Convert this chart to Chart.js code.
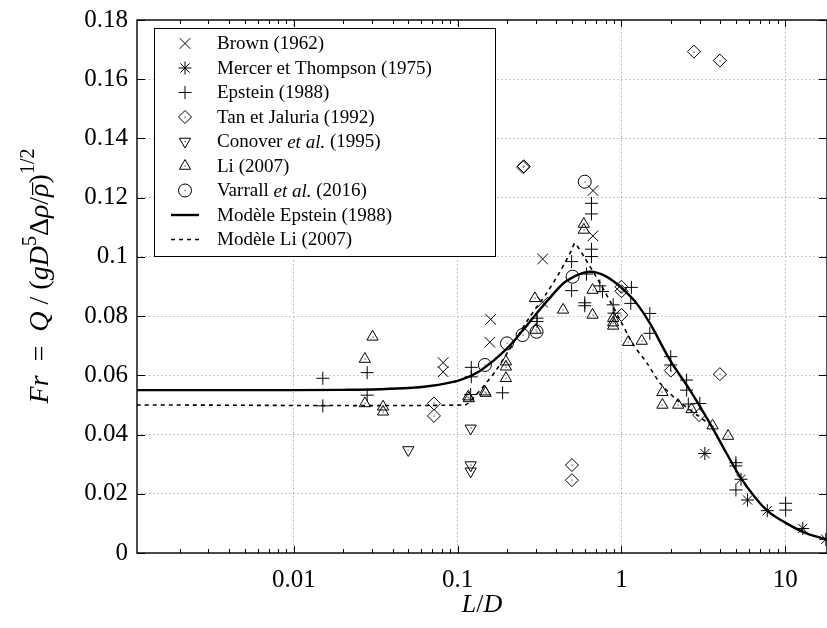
<!DOCTYPE html>
<html>
<head>
<meta charset="utf-8">
<script src="https://cdn.jsdelivr.net/npm/chart.js@4"></script>
<style>
  html, body { margin: 0; padding: 0; background: #fff; }
  #chart { display: block; }
</style>
</head>
<body>
<canvas id="chart" width="827" height="628"></canvas>
<script>
// values (L/D, Fr)
const brownX = [0.0815, 0.0815, 0.157, 0.159, 0.33, 0.33, 0.67, 0.67];
const brownY = [0.0643, 0.0612, 0.0712, 0.0789, 0.0847, 0.0993, 0.1224, 0.1071];

const mercerX = [3.23, 5.37, 5.89, 7.77, 12.8, 17.7];
const mercerY = [0.0336, 0.0249, 0.0179, 0.0143, 0.0083, 0.0046];

const epsteinX = [0.015, 0.015, 0.028, 0.028, 0.121, 0.121, 0.12, 0.188, 0.305, 0.305,
  0.496, 0.496, 0.597, 0.597, 0.612, 0.656, 0.656, 0.656, 0.656, 0.738,
  0.766, 0.89, 0.90, 1.15, 1.14, 1.49, 1.49, 2.0, 2.0, 2.5,
  2.5, 2.56, 3.01, 5.0, 5.0, 5.0, 10.06, 10.06];
const epsteinY = [0.059, 0.0497, 0.0609, 0.0533, 0.0627, 0.0595, 0.0535, 0.0541, 0.0793, 0.0782,
  0.0984, 0.0886, 0.0845, 0.0835, 0.0942, 0.1181, 0.1145, 0.1026, 0.1001, 0.0902,
  0.0883, 0.0838, 0.0810, 0.0897, 0.0843, 0.0809, 0.0742, 0.0663, 0.0635, 0.0584,
  0.0550, 0.0503, 0.0505, 0.0305, 0.0294, 0.0213, 0.0168, 0.0145];

const tanX = [0.0716, 0.0716, 0.251, 0.253, 0.498, 0.498, 1.0, 1.0, 1.0, 2.0, 2.77, 2.98, 3.99, 3.99];
const tanY = [0.0505, 0.0463, 0.1303, 0.1306, 0.0297, 0.0246, 0.0899, 0.0884, 0.0804, 0.0616, 0.1693, 0.0466, 0.1663, 0.0604];

const conoverX = [0.0499, 0.12, 0.12, 0.12];
const conoverY = [0.0348, 0.0421, 0.0297, 0.0276];

const liX = [0.0271, 0.0302, 0.0271, 0.035, 0.035, 0.116, 0.117, 0.1465, 0.148, 0.197,
  0.197, 0.197, 0.296, 0.30, 0.44, 0.589, 0.589, 0.666, 0.666, 0.89,
  0.89, 0.89, 1.10, 1.33, 1.78, 1.78, 2.22, 2.68, 3.60, 4.48];
const liY = [0.0655, 0.0730, 0.0505, 0.0494, 0.0477, 0.0528, 0.0522, 0.0545, 0.054, 0.0646,
  0.0629, 0.059, 0.086, 0.0753, 0.0821, 0.1111, 0.1091, 0.0888, 0.0804, 0.0793,
  0.0778, 0.0767, 0.0712, 0.0716, 0.0543, 0.0500, 0.0500, 0.0485, 0.0430, 0.0395];

const varrallX = [0.1465, 0.20, 0.249, 0.303, 0.503, 0.597];
const varrallY = [0.0635, 0.0708, 0.0736, 0.0747, 0.0933, 0.1254];

// model curves
const epModelX = [0.0011, 0.005, 0.01, 0.02, 0.0334, 0.05, 0.0676, 0.085, 0.103, 0.1365,
  0.1987, 0.25, 0.303, 0.37, 0.4406, 0.52, 0.583, 0.65, 0.705, 0.8,
  0.933, 1.08, 1.237, 1.49, 1.976, 2.62, 3.47, 4.39, 5.29, 6.5,
  7.70, 10.2, 13.5, 18];
const epModelY = [0.055, 0.055, 0.055, 0.0551, 0.0553, 0.0557, 0.0564, 0.0573, 0.0584, 0.0615,
  0.0689, 0.0752, 0.0809, 0.0865, 0.0910, 0.0935, 0.0946, 0.0950, 0.0947, 0.0935,
  0.0910, 0.0878, 0.0843, 0.0776, 0.0652, 0.0550, 0.0438, 0.0336, 0.0258, 0.0190,
  0.0145, 0.0100, 0.0066, 0.0046];

const liModelX = [0.0011, 0.111, 0.125, 0.145, 0.172, 0.218, 0.276, 0.349, 0.41, 0.462,
  0.496, 0.519, 0.598, 0.738, 0.911, 1.174, 1.43, 1.717, 2.18, 2.89, 3.62];
const liModelY = [0.05, 0.05, 0.0525, 0.0565, 0.0618, 0.0708, 0.0798, 0.0877, 0.0939, 0.099,
  0.1023, 0.1046, 0.0996, 0.0912, 0.0821, 0.0706, 0.0642, 0.0574, 0.0517, 0.0466, 0.0426];

// axis ticks
const xTickValues = [0.002, 0.003, 0.004, 0.005, 0.006, 0.007, 0.008, 0.009,
  0.01, 0.02, 0.03, 0.04, 0.05, 0.06, 0.07, 0.08, 0.09,
  0.1, 0.2, 0.3, 0.4, 0.5, 0.6, 0.7, 0.8, 0.9,
  1, 2, 3, 4, 5, 6, 7, 8, 9, 10];
const xTickLabels = ['0.01', '0.1', '1', '10'];
const yTickValues = [0, 0.02, 0.04, 0.06, 0.08, 0.1, 0.12, 0.14, 0.16, 0.18];

const serif = '"Liberation Serif", "DejaVu Serif", serif';
const gridGray = '#b4b4b4';

function pts(xs, ys) {
  return xs.map((x, i) => ({ x: x, y: ys[i] }));
}
function isDecade(v) {
  const l = Math.log10(v);
  return Math.abs(l - Math.round(l)) < 1e-6;
}

const markerSets = [
  { label: 'Brown (1962)', xs: brownX, ys: brownY, style: 'crossRot', r: 7.5, rot: 0, dot: false },
  { label: 'Mercer et Thompson (1975)', xs: mercerX, ys: mercerY, style: 'star', r: 6.5, rot: 0, dot: false },
  { label: 'Epstein (1988)', xs: epsteinX, ys: epsteinY, style: 'cross', r: 6.5, rot: 0, dot: false },
  { label: 'Tan et Jaluria (1992)', xs: tanX, ys: tanY, style: 'rectRot', r: 6.5, rot: 0, dot: true },
  { label: 'Conover et al. (1995)', xs: conoverX, ys: conoverY, style: 'triangle', r: 6.5, rot: 180, dot: true },
  { label: 'Li (2007)', xs: liX, ys: liY, style: 'triangle', r: 6.5, rot: 0, dot: true },
  { label: 'Varrall et al. (2016)', xs: varrallX, ys: varrallY, style: 'circle', r: 6.5, rot: 0, dot: true }
];

const datasets = markerSets.map(s => ({
  label: s.label,
  data: pts(s.xs, s.ys),
  showLine: false,
  pointStyle: s.style,
  pointRadius: s.r,
  pointRotation: s.rot,
  pointBorderColor: '#000',
  pointBackgroundColor: 'rgba(255,255,255,0)',
  pointBorderWidth: 1,
  centerDot: s.dot
}));

datasets.push({
  label: 'Modèle Epstein (1988)',
  data: pts(epModelX, epModelY),
  showLine: true,
  borderColor: '#000',
  borderWidth: 2.4,
  pointRadius: 0,
  cubicInterpolationMode: 'monotone'
});
datasets.push({
  label: 'Modèle Li (2007)',
  data: pts(liModelX, liModelY),
  showLine: true,
  borderColor: '#000',
  borderWidth: 1.6,
  borderDash: [4, 4],
  pointRadius: 0,
  tension: 0.2
});

// legend rows: text runs (italic parts marked)
const legendRows = [
  { runs: [['Brown (1962)', false]], set: 0 },
  { runs: [['Mercer et Thompson (1975)', false]], set: 1 },
  { runs: [['Epstein (1988)', false]], set: 2 },
  { runs: [['Tan et Jaluria (1992)', false]], set: 3 },
  { runs: [['Conover ', false], ['et al.', true], [' (1995)', false]], set: 4 },
  { runs: [['Li (2007)', false]], set: 5 },
  { runs: [['Varrall ', false], ['et al.', true], [' (2016)', false]], set: 6 },
  { runs: [['Modèle Epstein (1988)', false]], line: [] },
  { runs: [['Modèle Li (2007)', false]], line: [4, 4] }
];

function drawMarker(ctx, style, r, rot, x, y) {
  if (Chart.helpers && Chart.helpers.drawPoint) {
    ctx.strokeStyle = '#000';
    ctx.fillStyle = 'rgba(255,255,255,0)';
    ctx.lineWidth = 1;
    Chart.helpers.drawPoint(ctx, { pointStyle: style, radius: r, rotation: rot, borderWidth: 1 }, x, y);
  }
}

const decorPlugin = {
  id: 'decor',
  afterDatasetsDraw(chart) {
    const ctx = chart.ctx;
    const a = chart.chartArea;
    const xs = chart.scales.x, ys = chart.scales.y;
    ctx.save();
    // small centre dots of hollow markers
    ctx.fillStyle = '#444';
    chart.data.datasets.forEach((ds, i) => {
      if (!ds.centerDot) return;
      chart.getDatasetMeta(i).data.forEach(el => {
        ctx.fillRect(Math.round(el.x) - 0.5, Math.round(el.y) - 0.5, 1.2, 1.2);
      });
    });
    // inward tick marks
    ctx.strokeStyle = '#000';
    ctx.lineWidth = 1;
    ctx.beginPath();
    xTickValues.forEach(v => {
      const px = Math.round(xs.getPixelForValue(v)) + 0.5;
      const len = isDecade(v) ? 7 : 4;
      ctx.moveTo(px, a.bottom); ctx.lineTo(px, a.bottom - len);
      ctx.moveTo(px, a.top); ctx.lineTo(px, a.top + len);
    });
    yTickValues.forEach(v => {
      const py = Math.round(ys.getPixelForValue(v)) + 0.5;
      ctx.moveTo(a.left, py); ctx.lineTo(a.left + 8, py);
      ctx.moveTo(a.right, py); ctx.lineTo(a.right - 8, py);
    });
    ctx.stroke();
    // frame
    ctx.lineWidth = 1.4;
    ctx.strokeRect(a.left, a.top, a.right - a.left, a.bottom - a.top);

    // legend
    const lx = 154, ly = 28, lw = 341, lh = 228;
    ctx.fillStyle = '#fff';
    ctx.fillRect(lx, ly, lw, lh);
    ctx.lineWidth = 1;
    ctx.strokeStyle = '#000';
    ctx.strokeRect(lx + 0.5, ly + 0.5, lw, lh);
    ctx.textBaseline = 'middle';
    ctx.fillStyle = '#000';
    legendRows.forEach((row, i) => {
      const y = 43.5 + i * 24.5;
      if (row.set !== undefined) {
        const s = markerSets[row.set];
        drawMarker(ctx, s.style, s.r, s.rot, 185, y);
        if (s.dot) { ctx.fillStyle = '#444'; ctx.fillRect(184.5, y - 0.5, 1.2, 1.2); }
      } else {
        ctx.beginPath();
        ctx.setLineDash(row.line);
        ctx.lineWidth = row.line.length ? 1.6 : 2.4;
        ctx.moveTo(171, y); ctx.lineTo(199, y);
        ctx.stroke();
        ctx.setLineDash([]);
      }
      ctx.fillStyle = '#000';
      let tx = 217;
      row.runs.forEach(([t, it]) => {
        ctx.font = (it ? 'italic ' : '') + '19px ' + serif;
        ctx.fillText(t, tx, y + 1);
        tx += ctx.measureText(t).width;
      });
    });

    // axis titles
    drawYTitle(ctx, 38, 276);
    ctx.textBaseline = 'alphabetic';
    const size = 26;
    const runs = [['L', true], ['/', false], ['D', true]];
    let w = 0;
    runs.forEach(([t, it]) => { ctx.font = (it ? 'italic ' : '') + size + 'px ' + serif; w += ctx.measureText(t).width; });
    let tx = (a.left + a.right) / 2 - w / 2;
    runs.forEach(([t, it]) => {
      ctx.font = (it ? 'italic ' : '') + size + 'px ' + serif;
      ctx.fillText(t, tx, 612);
      tx += ctx.measureText(t).width;
    });
    ctx.restore();
  }
};

function drawYTitle(ctx, cx, cy) {
  const size = 28;
  const runs = [
    { t: 'Fr', it: true }, { t: '  =  ' }, { t: 'Q', it: true }, { t: ' / (' },
    { t: 'gD', it: true }, { t: '5', s: 0.7, dy: -0.42 }, { t: 'Δ' }, { t: 'ρ', it: true },
    { t: '/' }, { t: 'ρ', it: true, bar: true }, { t: ')' }, { t: '1/2', s: 0.7, dy: -0.5 }
  ];
  const fontOf = r => (r.it ? 'italic ' : '') + Math.round(size * (r.s || 1)) + 'px ' + serif;
  let total = 0;
  runs.forEach(r => { ctx.font = fontOf(r); total += ctx.measureText(r.t).width; });
  ctx.save();
  ctx.translate(cx, cy);
  ctx.rotate(-Math.PI / 2);
  ctx.textBaseline = 'alphabetic';
  ctx.fillStyle = '#000';
  ctx.strokeStyle = '#000';
  let x = -total / 2;
  const base = 10;
  runs.forEach(r => {
    ctx.font = fontOf(r);
    const w = ctx.measureText(r.t).width;
    ctx.fillText(r.t, x, base + (r.dy || 0) * size);
    if (r.bar) {
      ctx.lineWidth = 1.2;
      ctx.beginPath();
      ctx.moveTo(x + 2, base - size * 0.55);
      ctx.lineTo(x + w + 1, base - size * 0.55);
      ctx.stroke();
    }
    x += w;
  });
  ctx.restore();
}

new Chart(document.getElementById('chart'), {
  type: 'scatter',
  data: { datasets: datasets },
  options: {
    responsive: false,
    animation: false,
    events: [],
    layout: { autoPadding: false, padding: { top: 20, right: 0, left: 0, bottom: 0 } },
    plugins: { legend: { display: false }, tooltip: { enabled: false } },
    scales: {
      x: {
        type: 'logarithmic',
        min: 0.0011,
        max: 18,
        afterBuildTicks: scale => { scale.ticks = xTickValues.map(v => ({ value: v })); },
        afterFit: scale => {
          scale.height = 75;
          scale.paddingLeft = 0;
          scale.paddingRight = 0;
        },
        ticks: {
          autoSkip: false,
          maxRotation: 0,
          padding: 12,
          color: '#000',
          font: { family: serif, size: 25 },
          callback: v => {
            const lbl = String(v);
            return xTickLabels.includes(lbl) ? lbl : '';
          }
        },
        grid: {
          drawTicks: false,
          lineWidth: 1,
          color: ctx => (ctx.tick && isDecade(ctx.tick.value)) ? gridGray : 'rgba(0,0,0,0)'
        },
        border: { display: false, dash: [1.5, 2.5] }
      },
      y: {
        min: 0,
        max: 0.18,
        afterBuildTicks: scale => { scale.ticks = yTickValues.map(v => ({ value: v })); },
        afterFit: scale => {
          scale.width = 137;
          scale.paddingTop = 0;
          scale.paddingBottom = 0;
        },
        ticks: {
          padding: 9,
          color: '#000',
          font: { family: serif, size: 25 },
          callback: v => String(Number(v.toFixed(2)))
        },
        grid: { drawTicks: false, lineWidth: 1, color: gridGray },
        border: { display: false, dash: [1.5, 2.5] }
      }
    }
  },
  plugins: [decorPlugin]
});
</script>
</body>
</html>
